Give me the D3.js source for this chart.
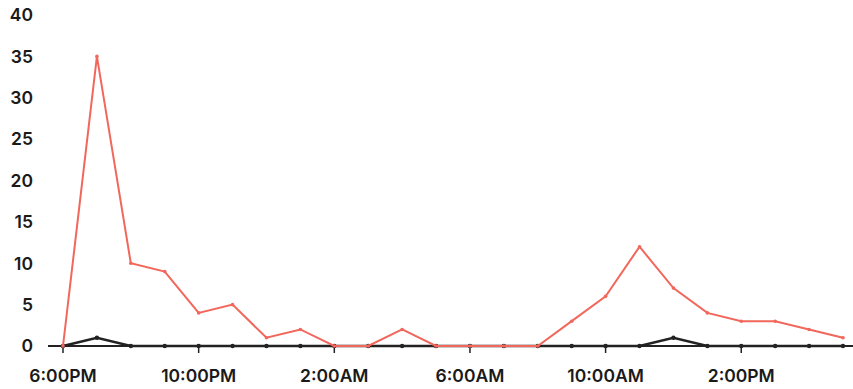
<!DOCTYPE html>
<html>
  <head>
    <meta charset="utf-8">
    <title>Hourly counts</title>
    <script src="https://d3js.org/d3.v7.min.js"></script>
    <style>
      body { margin: 0; background: #fff; }
      svg text { font-family: Inter, "Noto Sans", sans-serif; font-weight: 600; fill: #1a1a1a; font-size: 17.5px; }
    </style>
  </head>
  <body>
    <svg id="chart" width="853" height="389"></svg>
    <script>
      // hours from 6PM to 5PM next day
      var hours = d3.range(24);
      var hourLabels = ["6:00PM", "10:00PM", "2:00AM", "6:00AM", "10:00AM", "2:00PM"];
      var labelHours = [0, 4, 8, 12, 16, 20];
      var redValues = [0, 35, 10, 9, 4, 5, 1, 2, 0, 0, 2, 0, 0, 0, 0, 3, 6, 12, 7, 4, 3, 3, 2, 1];
      var darkValues = [0, 1, 0, 0, 0, 0, 0, 0, 0, 0, 0, 0, 0, 0, 0, 0, 0, 0, 1, 0, 0, 0, 0, 0];
      var yTicks = [0, 5, 10, 15, 20, 25, 30, 35, 40];

      var svg = d3.select("#chart");
      var x = d3.scaleLinear().domain([0, 23]).range([63, 843]);
      var y = d3.scaleLinear().domain([0, 40]).range([346, 15]);

      // y labels
      svg.selectAll(".ylab")
        .data(yTicks)
        .enter().append("text")
          .attr("x", 33)
          .attr("y", function(d) { return y(d); })
          .attr("dy", "0.36em")
          .attr("text-anchor", "end")
          .text(function(d) { return d; });

      // baseline axis
      svg.append("line")
        .attr("x1", 48).attr("x2", 853)
        .attr("y1", y(0)).attr("y2", y(0))
        .attr("stroke", "#222").attr("stroke-width", 2.2);

      svg.selectAll(".tick")
        .data(labelHours)
        .enter().append("line")
          .attr("x1", function(d) { return x(d); })
          .attr("x2", function(d) { return x(d); })
          .attr("y1", y(0)).attr("y2", y(0) + 7)
          .attr("stroke", "#222").attr("stroke-width", 1.5);

      svg.selectAll(".xlab")
        .data(labelHours)
        .enter().append("text")
          .attr("x", function(d) { return x(d); })
          .attr("y", 382)
          .attr("text-anchor", "middle")
          .text(function(d, i) { return hourLabels[i]; });

      var line = d3.line()
        .x(function(d, i) { return x(hours[i]); })
        .y(function(d) { return y(d); });

      // dark series
      svg.append("path")
        .datum(darkValues)
        .attr("fill", "none")
        .attr("stroke", "#222")
        .attr("stroke-width", 2.5)
        .attr("d", line);
      svg.selectAll(".darkDot")
        .data(darkValues)
        .enter().append("circle")
          .attr("cx", function(d, i) { return x(hours[i]); })
          .attr("cy", function(d) { return y(d); })
          .attr("r", 2.2)
          .attr("fill", "#222");

      // red series
      svg.append("path")
        .datum(redValues)
        .attr("fill", "none")
        .attr("stroke", "#f2675c")
        .attr("stroke-width", 2)
        .attr("d", line);
      svg.selectAll(".redDot")
        .data(redValues)
        .enter().append("circle")
          .attr("cx", function(d, i) { return x(hours[i]); })
          .attr("cy", function(d) { return y(d); })
          .attr("r", 1.8)
          .attr("fill", "#f2675c");
    </script>
  </body>
</html>
